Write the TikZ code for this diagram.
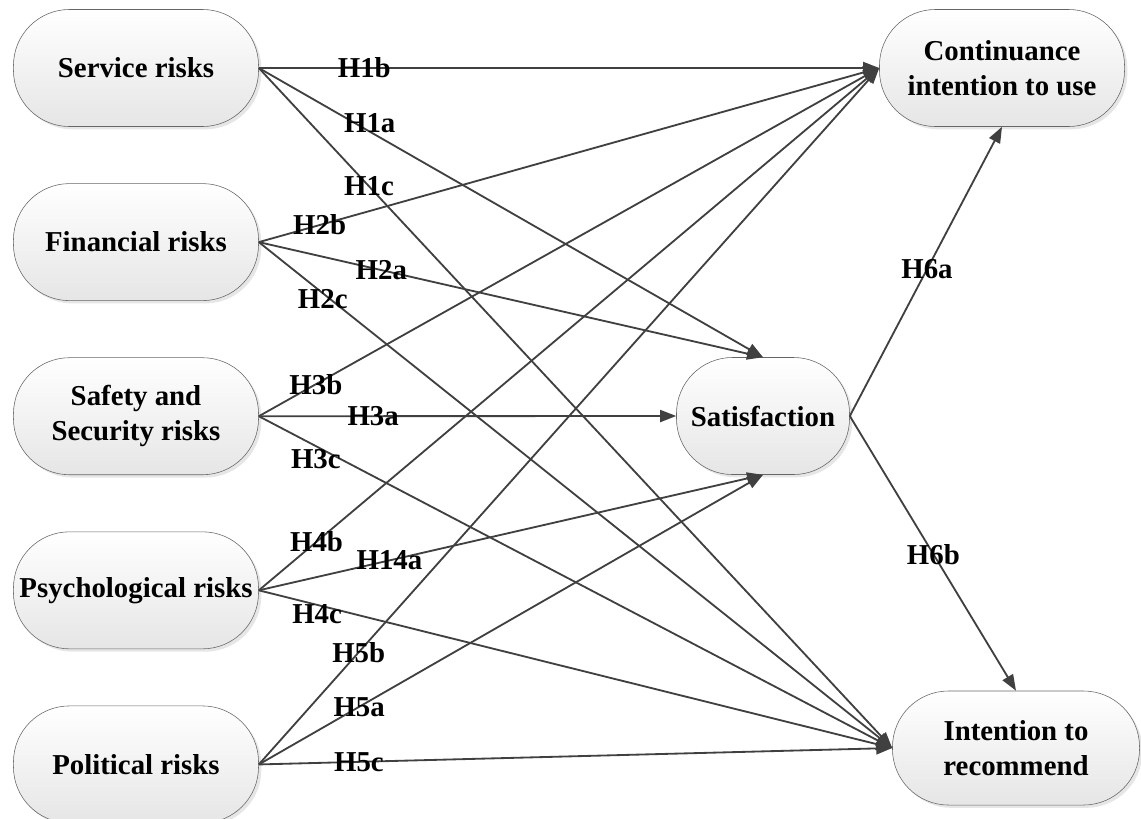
\documentclass[tikz,border=0pt]{standalone}
\usepackage{fontspec}
\setmainfont{Liberation Serif}
\usetikzlibrary{positioning,arrows.meta,shadows}

\begin{document}
\begin{tikzpicture}
  [x=0.025cm,y=-0.025cm,
  factor/.style={rectangle,rounded corners=1.4cm,draw=black!60,thin,
                top color=white,bottom color=black!10,
                drop shadow={opacity=0.2,shadow xshift=2pt,shadow yshift=-2pt},
                minimum width=6.125cm,minimum height=2.925cm,align=center,
                font=\fontsize{20.5}{25}\selectfont\bfseries},
  link/.style={draw=black!75,line width=1.3pt,
              -{Triangle[length=0.4cm,width=0.3cm]}},
  hyp/.style={font=\fontsize{20.5}{24}\selectfont\bfseries,inner sep=0pt},
  node distance=1.4125cm]
  \useasboundingbox (0,0) rectangle (1141,818);

  \node[factor]      (service)     at (136,68)          {Service risks};
  \node[factor]      (financial)   [below=of service]   {Financial risks};
  \node[factor]      (safety)      [below=of financial] {Safety and\\Security risks};
  \node[factor]      (psych)       [below=of safety]    {Psychological risks};
  \node[factor]      (political)   [below=of psych]     {Political risks};
  \node[factor,minimum width=4.325cm] (satisf) at (763,416) {Satisfaction};
  \node[factor]      (continuance) at (1002,68)         {Continuance\\intention to use};
  \node[factor,minimum width=6.175cm,minimum height=2.85cm]
                     (recommend)   at (1016,748)        {Intention to\\recommend};

  \draw[link] (service.east)   -- node[hyp,pos=0.17] (h1b) {H1b} (continuance.west);
  \draw[link] (service.east)   -- node[hyp,pos=0.22,yshift=0.22cm] (h1a) {H1a} (satisf.north);
  \draw[link] (service.east)   -- node[hyp,pos=0.174] (h1c) {H1c} (recommend.west);

  \draw[link] (financial.east) -- node[hyp,pos=0.098] (h2b) {H2b} (continuance.west);
  \draw[link] (financial.east) -- node[hyp,pos=0.243] (h2a) {H2a} (satisf.north);
  \draw[link] (financial.east) -- node[hyp,pos=0.101,yshift=-0.15cm] (h2c) {H2c} (recommend.west);

  \draw[link] (safety.east)    -- node[hyp,pos=0.092] (h3b) {H3b} (continuance.west);
  \draw[link] (safety.east)    -- node[hyp,pos=0.274] (h3a) {H3a} (satisf.west);
  \draw[link] (safety.east)    -- node[hyp,pos=0.09,yshift=-0.33cm] (h3c) {H3c} (recommend.west);

  \draw[link] (psych.east)     -- node[hyp,pos=0.093] (h4b) {H4b} (continuance.west);
  \draw[link] (psych.east)     -- node[hyp,pos=0.259] (h14a) {H14a} (satisf.south);
  \draw[link] (psych.east)     -- node[hyp,pos=0.092,yshift=-0.22cm] (h4c) {H4c} (recommend.west);

  \draw[link] (political.east) -- node[hyp,pos=0.161] (h5b) {H5b} (continuance.west);
  \draw[link] (political.east) -- node[hyp,pos=0.199] (h5a) {H5a} (satisf.south);
  \draw[link] (political.east) -- node[hyp,pos=0.158] (h5c) {H5c} (recommend.west);

  \draw[link] (satisf.east)    -- node[hyp,pos=0.507] (h6a) {H6a} (continuance.south);
  \draw[link] (satisf.east)    -- node[hyp,pos=0.503] (h6b) {H6b} (recommend.north);
\end{tikzpicture}
\end{document}
